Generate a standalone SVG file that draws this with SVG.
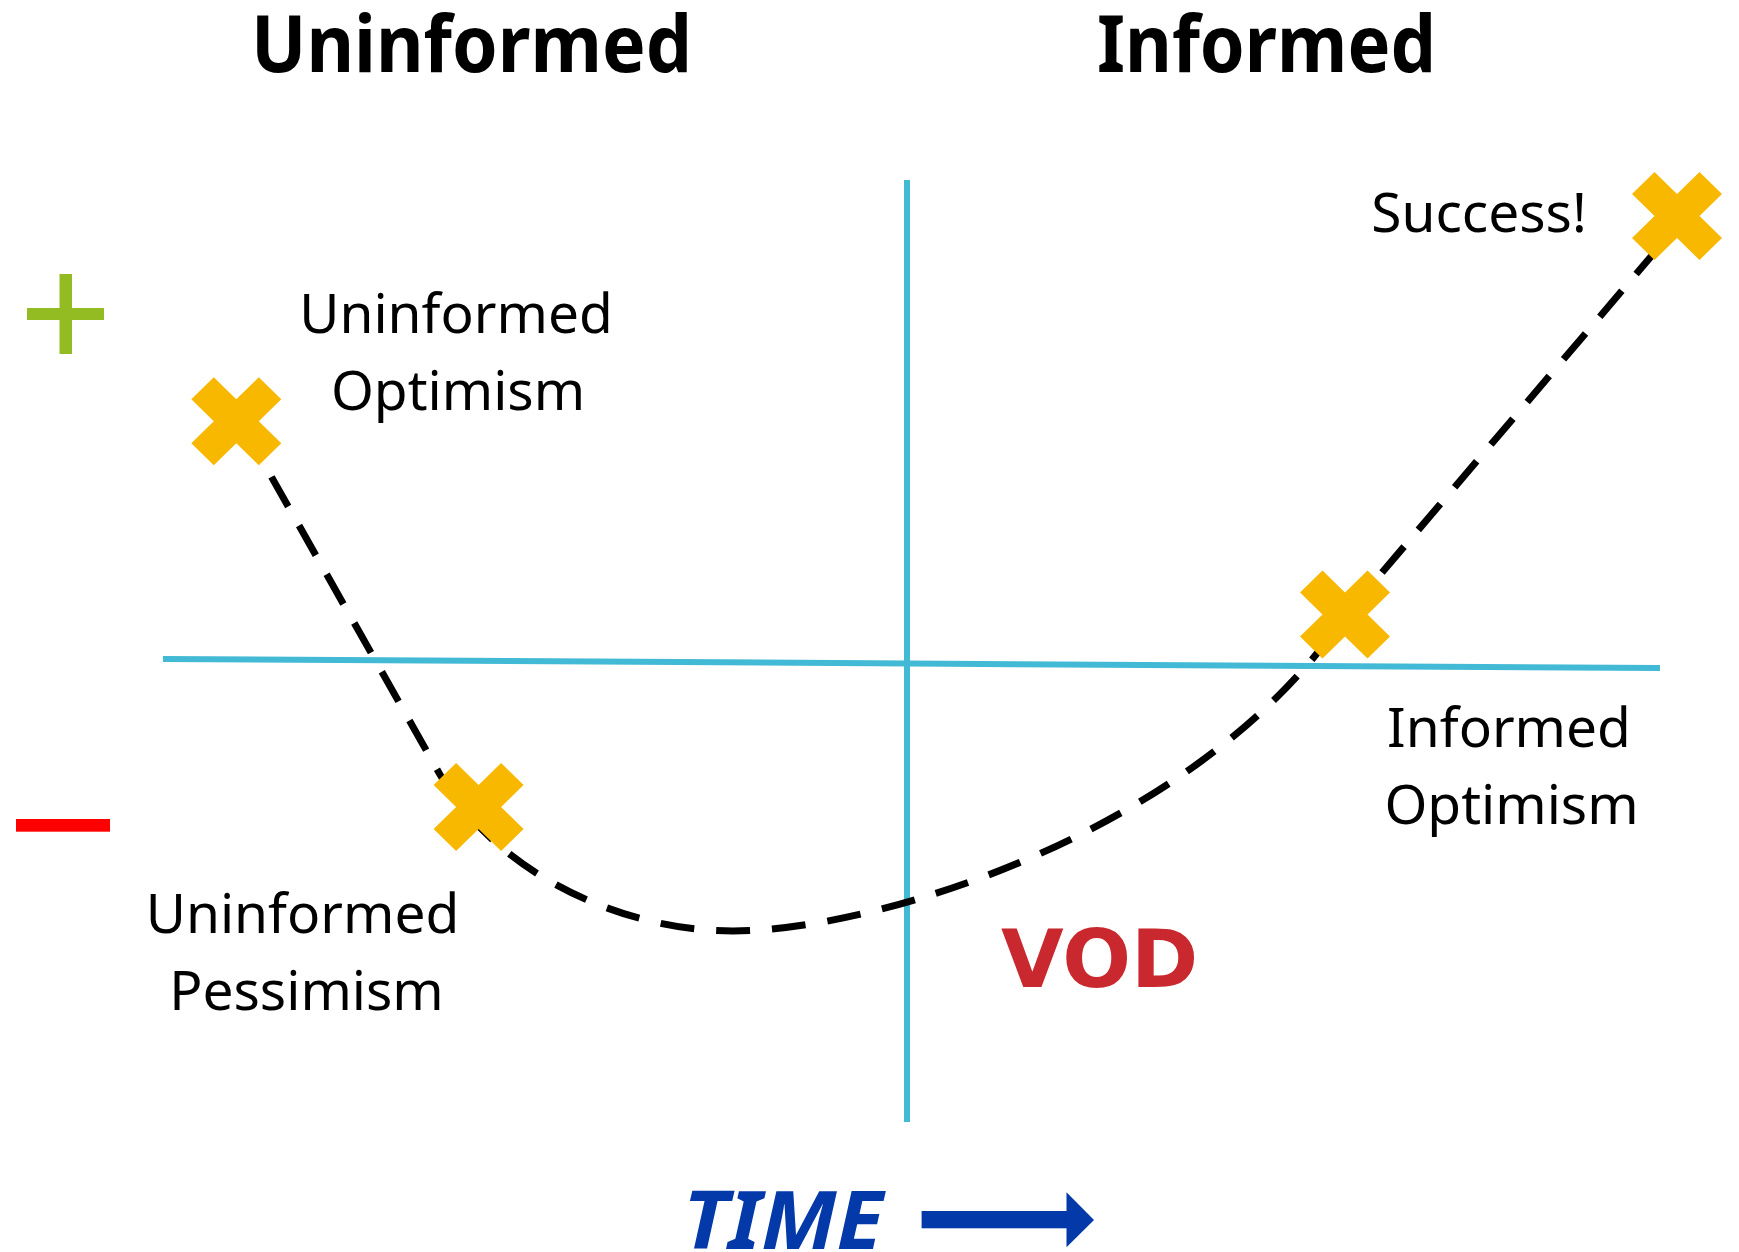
<svg xmlns="http://www.w3.org/2000/svg" width="1739" height="1252" viewBox="0 0 1739 1252">
<style>
.head{font-family:"Noto Sans","Open Sans",sans-serif;font-weight:bold;font-size:79px;fill:#000}
.lbl{font-family:"Noto Sans","Open Sans",sans-serif;font-size:55px;fill:#000;text-anchor:middle}
.axis{stroke:#42b9d5;stroke-width:6;fill:none}
.curve{stroke:#000;stroke-width:7;fill:none;stroke-dasharray:34 22;stroke-dashoffset:40}
.mark{fill:#f9b800}
.vod{font-family:"DejaVu Sans",Verdana,sans-serif;font-weight:bold;font-size:81px;fill:#c9282e}
.time{font-family:"Noto Sans","Open Sans",sans-serif;font-weight:bold;font-style:italic;font-size:80px;fill:#0339a8}
</style>
<defs>
<path id="xmark" d="M-22.5,-44 L0,-22 L22.5,-44 L45,-22 L22.5,0 L45,22 L22.5,44 L0,22 L-22.5,44 L-45,22 L-22.5,0 L-45,-22 Z"/>
</defs>
<rect width="1739" height="1252" fill="#fff"/>
<g id="headings">
<text class="head" x="251" y="72" textLength="441" lengthAdjust="spacingAndGlyphs">Uninformed</text>
<text class="head" x="1097" y="72" textLength="339" lengthAdjust="spacingAndGlyphs">Informed</text>
</g>
<g id="axes">
<line class="axis" x1="907" y1="180" x2="907" y2="1122"/>
<line class="axis" x1="163" y1="659" x2="1660" y2="668"/>
</g>
<g id="plus">
<rect x="59.5" y="274" width="12.5" height="80" fill="#92bc21"/>
<rect x="27" y="308" width="77" height="12" fill="#92bc21"/>
</g>
<g id="minus">
<rect x="16" y="819" width="94" height="12.7" fill="#ff0000"/>
</g>
<g id="connectors">
<path class="curve" d="M236,414.2 L440,774.6 C495,872 620,931 733,931 C880,931 1200,830 1345,616 L1677,226"/>
</g>
<g id="uninformed-optimism">
<use href="#xmark" class="mark" transform="translate(236.3,421.3)"/>
<text class="lbl" x="456" y="333">Uninformed</text>
<text class="lbl" x="458" y="410">Optimism</text>
</g>
<g id="uninformed-pessimism">
<use href="#xmark" class="mark" transform="translate(478.6,807)"/>
<text class="lbl" x="302.5" y="933">Uninformed</text>
<text class="lbl" x="306.5" y="1010">Pessimism</text>
</g>
<g id="informed-optimism">
<use href="#xmark" class="mark" transform="translate(1345,614.4)"/>
<text class="lbl" x="1509" y="747">Informed</text>
<text class="lbl" x="1511.5" y="824">Optimism</text>
</g>
<g id="success">
<use href="#xmark" class="mark" transform="translate(1677,216)"/>
<text class="lbl" x="1479" y="231.7">Success!</text>
</g>
<g id="vod">
<text class="vod" x="1001" y="986.7">VOD</text>
</g>
<g id="time">
<text class="time" x="683" y="1249" textLength="200" lengthAdjust="spacingAndGlyphs">TIME</text>
<rect x="921.6" y="1211" width="145.5" height="17.3" fill="#0339a8"/>
<polygon points="1066.5,1192.3 1094,1220 1066.5,1247.3" fill="#0339a8"/>
</g>
</svg>
